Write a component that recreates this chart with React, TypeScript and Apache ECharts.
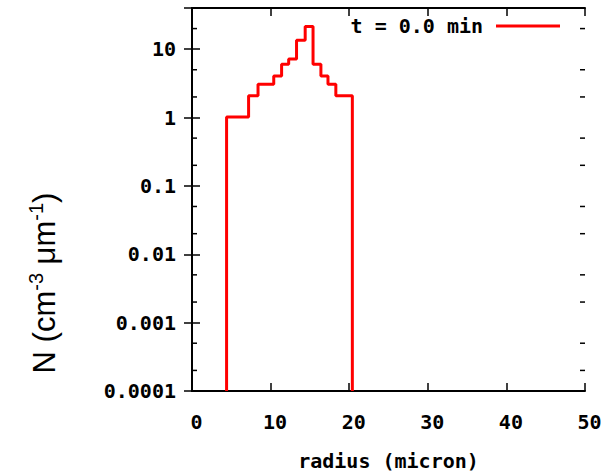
import React, { useEffect, useRef } from "react";
import * as echarts from "echarts";

// Histogram bin edges (radius, micron) and values N (cm^-3 um^-1)
const binEdges = [4.4, 7.2, 8.4, 10.4, 11.4, 12.3, 13.3, 14.4, 15.4, 16.4, 17.3, 18.3, 20.4];
const binValues = [1.02, 2.08, 3.08, 4.06, 6.0, 7.2, 13.5, 21.5, 6.0, 4.06, 3.08, 2.08];

const xMin = 0;
const xMax = 50;
const xInterval = 10;
const yMin = 0.0001;
const yMax = 40;
const yTickLabels = ["0.0001", "0.001", "0.01", "0.1", "1", "10"];
const yMinorTicks = [2e-4, 5e-4, 2e-3, 5e-3, 0.02, 0.05, 0.2, 0.5, 2, 5, 20];
const seriesName = "t = 0.0 min";
const xTitle = "radius (micron)";

const MONO = "DejaVu Sans Mono";
const tickFont = { fontFamily: MONO, fontWeight: "bold" as const, fontSize: 20, color: "#000" };

function yLabel(v: number): string {
  const l = Math.log10(v);
  const r = Math.round(l);
  if (Math.abs(l - r) > 1e-6) return "";
  const idx = r + 4;
  return yTickLabels[idx] ?? "";
}

export default function App() {
  const ref = useRef<HTMLDivElement>(null);
  useEffect(() => {
    if (!ref.current) return;
    const chart = echarts.init(ref.current, undefined, { renderer: "svg" });

    const stepData: [number, number][] = [[binEdges[0], yMin]];
    binValues.forEach((v, i) => stepData.push([binEdges[i + 1], v]));
    stepData.push([binEdges[binEdges.length - 1], yMin]);

    const axisLine = { show: true, lineStyle: { color: "#000", width: 2 } };
    const majorTick = { show: true, inside: true, length: 8, lineStyle: { color: "#000", width: 1.5 } };

    chart.setOption({
      animation: false,
      backgroundColor: "#fff",
      grid: { left: 192, right: 30, top: 8, bottom: 82, containLabel: false },
      legend: {
        data: [seriesName],
        right: 55,
        top: 16,
        padding: 0,
        align: "right",
        icon: "rect",
        itemWidth: 64,
        itemHeight: 3,
        textStyle: { ...tickFont, padding: [0, 8, 0, 0] },
      },
      xAxis: [
        {
          type: "value",
          min: xMin,
          max: xMax,
          interval: xInterval,
          axisLine,
          axisTick: majorTick,
          splitLine: { show: false },
          axisLabel: { ...tickFont, margin: 21, padding: [0, 0, 0, 9] },
          name: xTitle,
          nameLocation: "middle",
          nameGap: 60,
          nameTextStyle: { ...tickFont },
        },
        {
          type: "value",
          position: "top",
          min: xMin,
          max: xMax,
          interval: xInterval,
          axisLine,
          axisTick: majorTick,
          splitLine: { show: false },
          axisLabel: { show: false },
        },
      ],
      yAxis: [
        {
          type: "log",
          logBase: 10,
          min: yMin,
          max: yMax,
          axisLine,
          axisTick: majorTick,
          splitLine: { show: false },
          axisLabel: { ...tickFont, margin: 16, formatter: (v: number) => yLabel(v) },
        },
        {
          type: "log",
          logBase: 10,
          position: "right",
          min: yMin,
          max: yMax,
          axisLine,
          axisTick: majorTick,
          splitLine: { show: false },
          axisLabel: { show: false },
        },
      ],
      graphic: [
        {
          type: "text",
          x: 44,
          y: 283,
          rotation: Math.PI / 2,
          style: {
            text: "{a|N (cm}{s|-3}{a| μm}{s|-1}{a|)}",
            align: "center",
            verticalAlign: "middle",
            fill: "#000",
            rich: {
              a: { fontFamily: "Liberation Sans", fontSize: 31, fill: "#000", lineHeight: 36 },
              s: { fontFamily: "Liberation Sans", fontSize: 20, fill: "#000", verticalAlign: "top", lineHeight: 22 },
            },
          },
        },
      ],
      series: [
        {
          name: seriesName,
          type: "line",
          step: "start",
          data: stepData,
          symbol: "none",
          color: "#ff0000",
          lineStyle: { color: "#ff0000", width: 3 },
          xAxisIndex: 0,
          yAxisIndex: 0,
          z: 3,
        },
        {
          name: "minorTicks",
          type: "custom",
          xAxisIndex: 0,
          yAxisIndex: 0,
          silent: true,
          clip: false,
          z: 4,
          data: yMinorTicks.map((v) => [xMin, v]),
          renderItem: (_params: any, api: any) => {
            const v = api.value(1);
            const l = api.coord([xMin, v]);
            const r = api.coord([xMax, v]);
            const style = { stroke: "#000", lineWidth: 1.5 };
            return {
              type: "group",
              children: [
                { type: "line", shape: { x1: l[0], y1: l[1], x2: l[0] + 5, y2: l[1] }, style },
                { type: "line", shape: { x1: r[0], y1: r[1], x2: r[0] - 5, y2: r[1] }, style },
              ],
            };
          },
        },
      ],
    });
    return () => chart.dispose();
  }, []);
  return <div ref={ref} style={{ position: "fixed", left: 0, top: 0, width: 615, height: 476 }} />;
}
